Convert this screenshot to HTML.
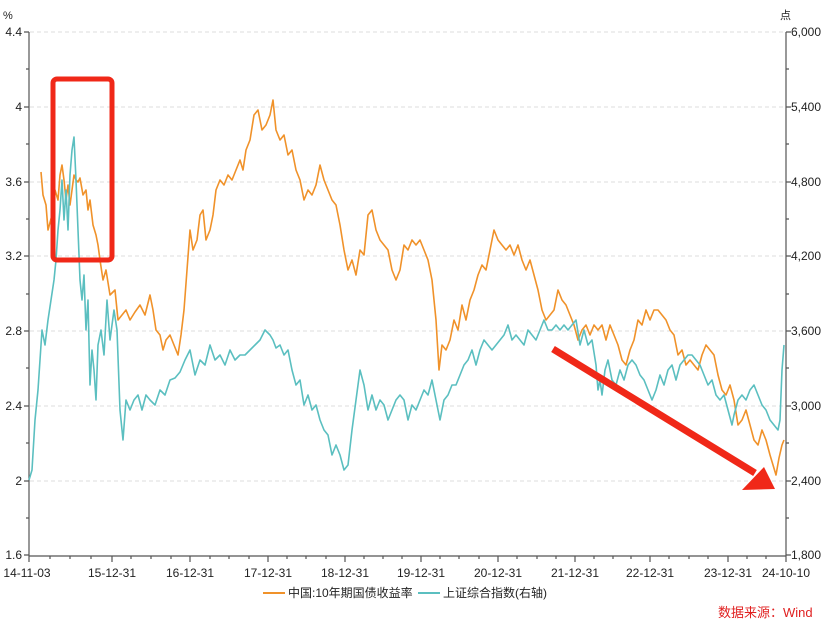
<!DOCTYPE html><html><head><meta charset="utf-8"><style>body{margin:0;background:#fff}svg{display:block;font-family:"Liberation Sans","Noto Sans CJK SC",sans-serif}</style></head><body>
<svg width="830" height="622" viewBox="0 0 830 622">
<g stroke="#ddd" stroke-dasharray="4,3" stroke-width="1">
<line x1="30" y1="32" x2="786" y2="32"/><line x1="30" y1="107" x2="786" y2="107"/><line x1="30" y1="182" x2="786" y2="182"/><line x1="30" y1="256" x2="786" y2="256"/><line x1="30" y1="331" x2="786" y2="331"/><line x1="30" y1="406" x2="786" y2="406"/><line x1="30" y1="481" x2="786" y2="481"/></g>
<g stroke="#555" stroke-width="1.2" fill="none">
<line x1="29" y1="32" x2="29" y2="556"/><line x1="786" y1="32" x2="786" y2="556"/><line x1="29" y1="556" x2="786" y2="556"/>
<path d="M24 32H29M24 107H29M24 182H29M24 256H29M24 331H29M24 406H29M24 481H29M24 555H29M26 69H29M26 144H29M26 219H29M26 294H29M26 368H29M26 443H29M26 518H29"/>
<path d="M786 32H791M786 107H791M786 182H791M786 256H791M786 331H791M786 406H791M786 481H791M786 555H791M786 69H789M786 144H789M786 219H789M786 294H789M786 368H789M786 443H789M786 518H789"/>
<path d="M29 556V562M112 556V562M190 556V562M268 556V562M345 556V562M421 556V562M498 556V562M575 556V562M650 556V562M728 556V562M786 556V562M50 556V559M70 556V559M91 556V559M131 556V559M151 556V559M171 556V559M210 556V559M229 556V559M249 556V559M287 556V559M306 556V559M326 556V559M364 556V559M383 556V559M402 556V559M440 556V559M459 556V559M479 556V559M517 556V559M537 556V559M556 556V559M594 556V559M613 556V559M631 556V559M669 556V559M689 556V559M708 556V559M747 556V559M766 556V559"/></g>
<g font-size="12" fill="#222"><text x="3" y="19" font-size="11">%</text>
<g text-anchor="end"><text x="22" y="36">4.4</text><text x="22" y="111">4</text><text x="22" y="186">3.6</text><text x="22" y="260">3.2</text><text x="22" y="335">2.8</text><text x="22" y="410">2.4</text><text x="22" y="485">2</text><text x="22" y="559">1.6</text></g>
<text x="780" y="19" font-size="11">点</text>
<g><text x="791" y="36">6,000</text><text x="791" y="111">5,400</text><text x="791" y="186">4,800</text><text x="791" y="260">4,200</text><text x="791" y="335">3,600</text><text x="791" y="410">3,000</text><text x="791" y="485">2,400</text><text x="791" y="559">1,800</text></g>
<g text-anchor="middle"><text x="27" y="577">14-11-03</text><text x="112" y="577">15-12-31</text><text x="190" y="577">16-12-31</text><text x="268" y="577">17-12-31</text><text x="345" y="577">18-12-31</text><text x="421" y="577">19-12-31</text><text x="498" y="577">20-12-31</text><text x="575" y="577">21-12-31</text><text x="650" y="577">22-12-31</text><text x="728" y="577">23-12-31</text><text x="786" y="577">24-10-10</text></g>
<line x1="263" y1="593" x2="285" y2="593" stroke="#f0922a" stroke-width="2"/><text x="288" y="597">中国:10年期国债收益率</text>
<line x1="418" y1="593" x2="440" y2="593" stroke="#5bbfc0" stroke-width="2"/><text x="443" y="597">上证综合指数(右轴)</text>
<text x="718" y="617" fill="#e02020" font-size="13">数据来源：Wind</text></g>
<polyline fill="none" stroke="#f0922a" stroke-width="1.6" stroke-linejoin="round" points="41,172 43,195 46,205 48,230 52,215 55,190 58,200 60,175 62,165 64,180 66,200 68,185 70,205 72,190 74,175 76,180 78,182 80,178 83,195 86,190 88,210 90,200 93,225 96,235 98,245 100,260 103,280 106,270 110,295 115,290 118,320 122,315 126,310 130,320 135,312 140,305 145,315 150,295 153,310 156,330 160,335 163,350 166,340 170,335 174,345 178,355 181,335 184,310 187,270 190,230 193,250 197,240 200,215 203,210 206,240 210,230 213,215 216,190 220,180 224,185 228,175 232,180 236,170 240,160 243,170 246,150 250,140 254,115 258,110 262,130 266,125 270,115 273,100 276,130 280,140 284,135 288,155 292,150 296,170 300,180 304,200 308,190 312,195 316,185 320,165 324,180 328,190 332,200 336,205 340,225 344,250 348,270 352,260 356,275 360,250 364,255 368,215 372,210 376,230 380,240 384,245 388,250 392,270 396,280 400,270 404,245 408,250 412,240 416,245 420,240 424,250 428,260 432,280 436,320 439,370 442,345 446,350 450,340 454,320 458,330 462,305 466,320 470,300 474,290 478,275 482,265 486,270 490,250 494,230 498,240 502,245 506,250 510,245 514,255 518,245 522,260 526,270 530,260 534,275 538,290 542,310 546,320 550,315 554,310 558,290 562,300 566,305 570,315 574,325 578,340 582,330 586,325 590,335 594,325 598,330 602,325 606,340 610,325 614,335 618,345 622,360 626,365 630,350 634,340 638,320 642,325 646,310 650,320 654,310 658,310 662,315 666,320 670,330 674,335 678,355 682,350 686,365 690,360 694,365 698,370 702,355 706,345 710,350 714,355 718,375 722,390 726,395 730,385 734,400 738,425 742,420 746,410 750,425 754,440 758,445 762,430 766,440 770,455 773,465 776,475 779,458 782,445 784,440"/>
<polyline fill="none" stroke="#5bbfc0" stroke-width="1.6" stroke-linejoin="round" points="29,480 32,470 35,420 38,390 40,360 42,330 45,345 48,320 51,300 54,280 56,260 58,230 60,210 62,180 64,220 66,190 68,230 70,175 72,150 74,137 76,180 78,230 80,280 82,300 84,275 86,330 88,300 90,385 92,350 94,370 96,400 98,345 101,330 104,355 107,300 110,340 114,310 117,330 120,410 123,440 126,400 130,410 134,400 138,395 142,410 146,395 150,400 155,405 160,390 165,395 170,380 175,378 180,372 185,360 190,350 195,375 200,360 205,365 210,345 215,360 220,355 225,365 230,350 235,360 240,355 245,355 250,350 255,345 260,340 265,330 270,335 273,340 276,348 280,345 284,355 288,350 292,370 296,385 300,380 304,405 308,395 312,410 316,405 320,420 324,430 328,435 332,455 336,445 340,455 344,470 348,465 352,430 356,400 360,370 364,385 368,410 372,395 376,410 380,400 384,405 388,420 392,410 396,400 400,395 404,400 408,420 412,405 416,410 420,400 424,390 428,395 432,380 436,400 440,420 444,400 448,395 452,385 456,385 460,375 464,365 468,360 472,350 476,365 480,350 484,340 488,345 492,350 496,345 500,340 504,335 508,325 512,340 516,335 520,340 524,345 528,330 532,335 536,340 540,330 544,320 548,330 552,330 556,325 560,330 564,325 568,330 572,325 576,320 580,345 584,330 588,345 592,340 596,365 598,390 600,380 602,395 605,370 608,360 612,380 616,385 620,370 624,380 628,365 632,360 636,365 640,375 644,380 648,390 652,400 656,390 660,375 664,385 668,370 672,365 676,380 680,365 684,360 688,355 692,355 696,360 700,365 704,375 708,385 712,380 716,395 720,400 724,395 728,410 732,425 734,415 738,400 742,395 746,400 750,390 754,385 758,395 762,405 766,410 770,420 774,425 778,430 780,420 782,370 784,345"/>
<rect x="53" y="79" width="59" height="181" rx="4" fill="none" stroke="#f02818" stroke-width="5"/>
<line x1="553" y1="349" x2="755" y2="473" stroke="#f02818" stroke-width="7"/>
<polygon points="775,489 742,490 764,467" fill="#f02818"/>
</svg></body></html>
